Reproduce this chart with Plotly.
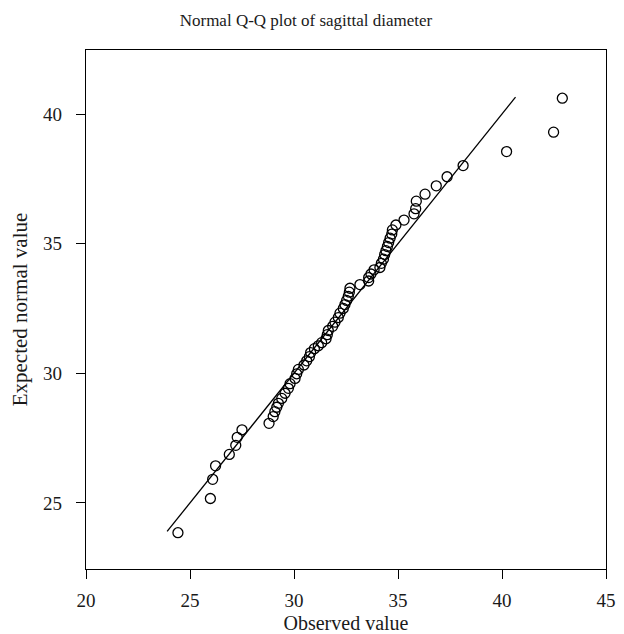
import plotly.graph_objects as go

observed = [24.42, 25.98, 26.09, 26.23, 26.89, 27.20, 27.27, 27.50, 28.80, 29.00,
            29.08, 29.17, 29.25, 29.41, 29.57, 29.73, 29.81, 30.05, 30.13, 30.21,
            30.48, 30.61, 30.74, 30.80, 30.98, 31.17, 31.33, 31.54, 31.60, 31.65,
            31.86, 31.97, 32.13, 32.21, 32.37, 32.45, 32.53, 32.61, 32.66, 32.69,
            33.17, 33.59, 33.59, 33.70, 33.85, 34.13, 34.20, 34.30, 34.36, 34.42,
            34.49, 34.55, 34.62, 34.70, 34.73, 34.90, 35.29, 35.77, 35.85, 35.88,
            36.30, 36.84, 37.36, 38.13, 40.22, 42.48, 42.90]
expected = [23.85, 25.17, 25.91, 26.43, 26.87, 27.22, 27.53, 27.82, 28.07, 28.33,
            28.52, 28.69, 28.84, 29.03, 29.23, 29.42, 29.60, 29.80, 29.98, 30.15,
            30.32, 30.48, 30.64, 30.80, 30.95, 31.06, 31.18, 31.33, 31.49, 31.65,
            31.81, 31.97, 32.15, 32.32, 32.50, 32.65, 32.81, 32.97, 33.13, 33.28,
            33.42, 33.56, 33.69, 33.83, 33.99, 34.08, 34.24, 34.40, 34.58, 34.73,
            34.89, 35.04, 35.21, 35.37, 35.53, 35.72, 35.91, 36.15, 36.35, 36.64,
            36.91, 37.23, 37.58, 38.01, 38.55, 39.30, 40.61]

# Reference line (y = x)
line_x = [23.9, 40.65]
line_y = [23.9, 40.65]

x_ticks = [20, 25, 30, 35, 40, 45]
y_ticks = [25, 30, 35, 40]

FONT = "Liberation Serif, Times New Roman, serif"
TXT = "#1a1a1a"

fig = go.Figure()
fig.add_trace(go.Scatter(x=line_x, y=line_y, mode="lines",
                         line=dict(color="black", width=1.3),
                         showlegend=False, hoverinfo="skip"))
fig.add_trace(go.Scatter(x=observed, y=expected, mode="markers",
                         marker=dict(symbol="circle-open", size=10,
                                     color="black", line=dict(width=1.3)),
                         showlegend=False))

W, H = 616, 626
fig.update_layout(
    width=W, height=H,
    margin=dict(l=78, r=18, t=42, b=65, autoexpand=False),
    paper_bgcolor="white", plot_bgcolor="white",
    font=dict(family=FONT, size=19, color=TXT),
    title=dict(text="Normal Q-Q plot of sagittal diameter",
               x=298 / W, xanchor="center", xref="container",
               y=1 - 12 / H, yanchor="middle", yref="container",
               font=dict(family=FONT, size=17, color=TXT)),
    xaxis=dict(range=[20, 45], tickvals=x_ticks, ticks="outside", ticklen=9,
               tickwidth=1.3, tickcolor="black", showline=True, linecolor="black",
               linewidth=1.3, mirror=True, showgrid=False, zeroline=False,
               ticklabelstandoff=5, automargin=False,
               tickfont=dict(family=FONT, size=19, color=TXT),
               title=dict(text="Observed value", standoff=9,
                          font=dict(family=FONT, size=20, color=TXT))),
    yaxis=dict(range=[22.45, 42.47], tickvals=y_ticks, ticks="outside", ticklen=9,
               tickwidth=1.3, tickcolor="black", showline=True, linecolor="black",
               linewidth=1.3, mirror=True, showgrid=False, zeroline=False,
               ticklabelstandoff=10, automargin=False,
               tickfont=dict(family=FONT, size=19, color=TXT),
               title=dict(text="Expected normal value", standoff=13,
                          font=dict(family=FONT, size=21, color=TXT))),
)

fig.write_html("out.html")
